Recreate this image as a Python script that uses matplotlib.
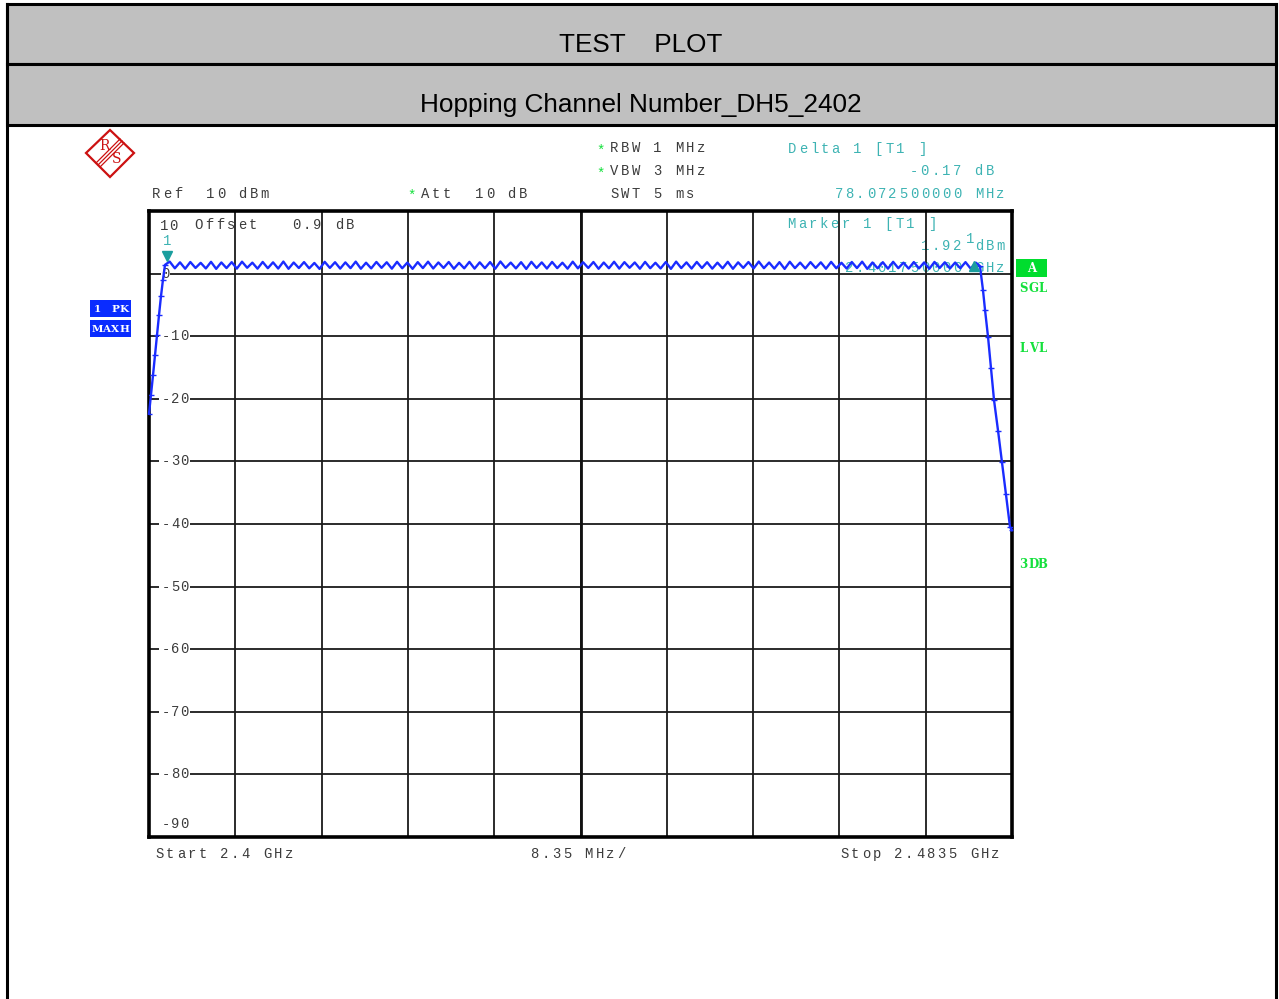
import numpy as np
import matplotlib
matplotlib.use("Agg")
import matplotlib.pyplot as plt
import matplotlib.transforms as mtransforms
from matplotlib.patches import Rectangle, Polygon

# sweep settings
START_GHZ = 2.4
STOP_GHZ = 2.4835
REF_DBM = 10
BOTTOM_DBM = -90
N_DIV = 10

# hopping channels 2402..2480 MHz, peak level per channel (dBm)
ch_mhz = np.arange(2402, 2481)
peaks = [1.92, 1.80, 1.85, 1.72, 1.88, 1.78, 1.83, 1.90, 1.75, 1.86,
         1.80, 1.92, 1.77, 1.84, 1.70, 1.88, 1.82, 1.79, 1.91, 1.74,
         1.86, 1.81, 1.88, 1.76, 1.83, 1.90, 1.78, 1.85, 1.72, 1.87,
         1.80, 1.84, 1.93, 1.76, 1.82, 1.88, 1.79, 1.86, 1.74, 1.90,
         1.81, 1.85, 1.77, 1.89, 1.83, 1.78, 1.87, 1.73, 1.84, 1.91,
         1.79, 1.86, 1.82, 1.75, 1.88, 1.80, 1.85, 1.92, 1.77, 1.83,
         1.89, 1.76, 1.84, 1.80, 1.87, 1.73, 1.85, 1.90, 1.78, 1.82,
         1.88, 1.75, 1.84, 1.79, 1.86, 1.81, 1.77, 1.83, 1.75]
# level between neighbouring channels (dBm)
dips = [0.85, 0.78, 0.90, 0.82, 0.76, 0.88, 0.80, 0.93, 0.79, 0.86,
        0.81, 0.77, 0.89, 0.84, 0.75, 0.91, 0.80, 0.87, 0.78, 0.83,
        0.92, 0.79, 0.85, 0.76, 0.88, 0.82, 0.90, 0.77, 0.84, 0.80,
        0.86, 0.78, 0.91, 0.83, 0.75, 0.89, 0.81, 0.87, 0.79, 0.84,
        0.90, 0.77, 0.85, 0.80, 0.93, 0.78, 0.86, 0.82, 0.76, 0.88,
        0.81, 0.89, 0.79, 0.84, 0.77, 0.91, 0.83, 0.86, 0.80, 0.75,
        0.87, 0.82, 0.90, 0.78, 0.85, 0.81, 0.88, 0.76, 0.84, 0.79,
        0.86, 0.80, 0.83, 0.77, 0.89, 0.82, 0.85, 0.80]

# band edges (MHz above start, dBm)
left_mhz = [0.0, 0.19, 0.39, 0.58, 0.77, 0.97, 1.16, 1.35, 1.55]
left_dbm = [-22.4, -19.4, -16.2, -13.0, -9.8, -6.6, -3.6, -1.0, 1.4]
right_mhz = [80.40, 80.69, 80.89, 81.18, 81.47, 81.76, 82.15, 82.53, 82.92, 83.31, 83.50]
right_dbm = [1.2, -2.6, -5.8, -10.1, -15.1, -20.2, -25.1, -30.1, -35.2, -40.5, -41.0]

# markers
m1_ghz, m1_dbm = 2.40175, 1.92
delta_mhz, delta_db = 78.0725, -0.17

ytick_vals = [0, -10, -20, -30, -40, -50, -60, -70, -80]

GRAY = "#3c3c3c"
TEAL = "#3db3b3"
GREEN = "#14e03c"
BLUE = "#1a2cff"
MONO = "Liberation Mono"

fig = plt.figure(figsize=(12.79, 9.99), dpi=100)
ov = fig.add_axes([0, 0, 1, 1], zorder=0)
ov.set_xlim(0, 1279)
ov.set_ylim(999, 0)
ov.axis("off")

ax = fig.add_axes([149 / 1279, (999 - 837) / 999, 863 / 1279, 626 / 999], zorder=1)
ax.set_facecolor("none")


def mono(x, y, s, color=GRAY, size=10, ha="left", pitch=10.8, weight="normal",
         target=None, trans=None, zorder=3, family=MONO):
    target = target or ov
    trans = trans or ov.transData
    x0 = x - len(s) * pitch if ha == "right" else x
    if ha == "center":
        x0 = x - len(s) * pitch / 2
    for i, ch in enumerate(s):
        if ch == " ":
            continue
        target.text(x0 + (i + 0.5) * pitch, y, ch, transform=trans, ha="center",
                    va="center", family=family, fontsize=size, color=color,
                    fontweight=weight, zorder=zorder, clip_on=False)


# header bands
for y0 in (4, 64):
    ov.add_patch(Rectangle((7, y0), 1269, 61 if y0 == 64 else 60, fc="#c0c0c0",
                           ec="black", lw=2.2))
ov.plot([7, 7], [4, 999], color="black", lw=2.2)
ov.plot([1276, 1276], [4, 999], color="black", lw=2.2)
ov.text(641, 45, "TEST    PLOT", ha="center", va="center", fontsize=18.8,
        family="Liberation Sans", color="black")
ov.text(641, 105, "Hopping Channel Number_DH5_2402", ha="center", va="center",
        fontsize=18.8, family="Liberation Sans", color="black")

# R&S logo
red = "#cc1111"
ov.add_patch(Polygon([(110, 130), (134, 153), (110, 177), (86, 153)], closed=True,
                     fill=False, ec=red, lw=1.6))
for d in (-2, 0, 2):
    ov.plot([122 + d, 98 + d], [141 + d, 165 + d], color=red, lw=0.9)
ov.text(104, 146, "R", color=red, fontsize=10, ha="center", va="center",
        family="DejaVu Serif")
ov.text(117, 159, "S", color=red, fontsize=10, ha="center", va="center",
        family="DejaVu Serif")

# instrument settings
mono(151, 194, "Ref  10 dBm")
mono(409, 196, "*", color=GREEN, size=10, pitch=6)
mono(420, 194, "Att  10 dB")
mono(598, 151, "*", color=GREEN, size=10, pitch=6)
mono(609, 148, "RBW 1 MHz")
mono(598, 174, "*", color=GREEN, size=10, pitch=6)
mono(609, 171, "VBW 3 MHz")
mono(609, 194, "SWT 5 ms")
mono(787, 149, "Delta 1 [T1 ]", color=TEAL)
mono(995, 171, "%.2f dB" % delta_db, color=TEAL, ha="right")
mono(1006, 194, "%.9f MHz" % delta_mhz, color=TEAL, ha="right")

# marker readout inside the screen
mono(193.4, 225, "Offset   0.9 dB")
mono(786, 224, "Marker 1 [T1 ]", color=TEAL)
mono(1006, 246, "%.2f dBm" % m1_dbm, color=TEAL, ha="right")
mono(1006, 268, "%.9f GHz" % m1_ghz, color=TEAL, ha="right")

# frequency axis captions
mono(154, 854, "Start %g GHz" % START_GHZ)
mono(578, 854, "%.2f MHz/" % ((STOP_GHZ - START_GHZ) * 1000 / N_DIV), ha="center")
mono(1001, 854, "Stop %g GHz" % STOP_GHZ, ha="right")

# trace labels
for y0, lab in ((300, "1 PK"), (320, "MAXH")):
    ov.add_patch(Rectangle((90, y0), 41, 17, fc="#0a2cff", ec="none"))
    mono(110.5, y0 + 9, lab, color="white", size=7.5, pitch=9, ha="center",
         weight="bold", family="DejaVu Serif")

# status labels
ov.add_patch(Rectangle((1016, 259), 31, 18, fc="#00dd2e", ec="none"))
mono(1031.5, 268, "A", color="white", size=8.5, pitch=9, ha="center", weight="bold",
     family="DejaVu Serif")
for yy, lab in ((289, "SGL"), (348, "LVL"), (565, "3DB")):
    mono(1019, yy, lab, color=GREEN, size=8.5, pitch=9.5, weight="bold",
         family="DejaVu Serif")

# screen grid
ax.set_xlim(START_GHZ, STOP_GHZ)
ax.set_ylim(BOTTOM_DBM, REF_DBM)
step = (STOP_GHZ - START_GHZ) / N_DIV
ax.set_xticks([START_GHZ + k * step for k in range(1, N_DIV)])
ax.set_yticks(ytick_vals)
ax.tick_params(length=0, labelbottom=False, labelleft=False)
ax.grid(True, color="#1a1a1a", lw=1.3)
ax.axvline(START_GHZ + 5 * step, color="#111111", lw=2.0)
for side, sp in ax.spines.items():
    sp.set_linewidth(2.6)
    sp.set_color("black")

# level labels breaking the grid lines
btrans = mtransforms.blended_transform_factory(ov.transData, ax.transData)
for v in ytick_vals[1:]:
    ax.add_patch(Rectangle((159, v - 0.9), 31, 1.8, transform=btrans, fc="white",
                           ec="none", zorder=2.5, clip_on=False))
    mono(175, v, "%d" % v, target=ax, trans=btrans, ha="center", pitch=9.5)
ax.add_patch(Rectangle((161, -0.9), 9, 1.8, transform=btrans, fc="white", ec="none",
                       zorder=2.5, clip_on=False))
mono(165, 0, "0", target=ax, trans=btrans, ha="center", pitch=9.5)
mono(169, REF_DBM - 2.4, "10", target=ax, trans=btrans, ha="center", pitch=9.5)
mono(175, BOTTOM_DBM + 2.1, "-90", target=ax, trans=btrans, ha="center", pitch=9.5)

# trace
f = [START_GHZ + m / 1000 for m in left_mhz]
lv = list(left_dbm)
for i, c in enumerate(ch_mhz):
    f.append(c / 1000)
    lv.append(peaks[i])
    if i < len(dips):
        f.append((c + 0.5) / 1000)
        lv.append(dips[i])
f += [START_GHZ + m / 1000 for m in right_mhz]
lv += right_dbm
ax.plot(f, lv, color=BLUE, lw=1.7, zorder=4, clip_on=False)
ax.plot([START_GHZ + m / 1000 for m in left_mhz], left_dbm, ls="none", marker="_",
        ms=4, color=BLUE, zorder=4)
ax.plot([START_GHZ + m / 1000 for m in right_mhz], right_dbm, ls="none", marker="_",
        ms=4, color=BLUE, zorder=4)

# markers
d_ghz = m1_ghz + delta_mhz / 1000
ax.plot(m1_ghz, m1_dbm + 0.9, marker="v", ms=7, color="#1a9e9e", zorder=5, clip_on=False)
ax.text(m1_ghz, m1_dbm + 3.3, "1", color=TEAL, ha="center", va="center",
        family=MONO, fontsize=10, zorder=5)
ax.plot(d_ghz, m1_dbm + delta_db - 0.6, marker="^", ms=7, color="#1a9e9e", zorder=5)
ax.text(d_ghz - 0.0004, m1_dbm + 3.6, "1", color=TEAL, ha="center", va="center",
        family=MONO, fontsize=10, zorder=5)

fig.savefig("out.png", dpi=100)
